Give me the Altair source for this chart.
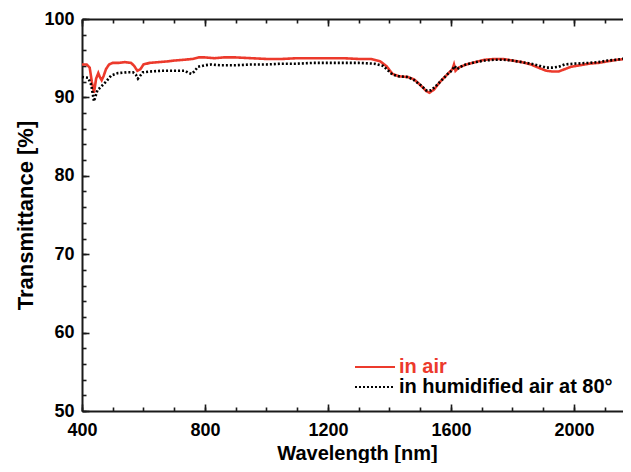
import altair as alt
import pandas as pd

# ---- data ----
wl_air = [400, 415, 425, 432, 439, 446, 453, 458, 464, 470, 478, 488, 500, 520, 540, 560, 570,
          580, 590, 600, 620, 650, 680, 700, 730, 760, 780, 800, 830, 860, 900, 950, 1000,
          1050, 1100, 1150, 1200, 1250, 1300, 1340, 1370, 1390, 1410, 1430, 1460, 1480, 1500,
          1520, 1530, 1545, 1565, 1590, 1605, 1610, 1615, 1625, 1650, 1680, 1710, 1740, 1770,
          1800, 1830, 1860, 1890, 1910, 1930, 1950, 1970, 1990, 2020, 2050, 2080, 2110, 2140,
          2170, 2190]
t_air = [94.2, 94.2, 93.8, 92.0, 90.6, 92.4, 93.1, 92.6, 92.2, 92.7, 93.6, 94.2, 94.4, 94.4, 94.5,
         94.4, 94.0, 93.4, 93.6, 94.2, 94.4, 94.5, 94.6, 94.7, 94.8, 94.9, 95.1, 95.1, 95.0,
         95.1, 95.1, 95.0, 94.9, 94.9, 95.0, 95.0, 95.0, 95.0, 94.9, 94.9, 94.6, 94.0, 93.0,
         92.7, 92.6, 92.3, 91.6, 90.8, 90.6, 91.0, 92.0, 93.0, 93.6, 94.2, 93.4, 93.8, 94.2,
         94.5, 94.8, 94.9, 94.9, 94.7, 94.5, 94.2, 93.7, 93.4, 93.3, 93.3, 93.6, 93.9, 94.1,
         94.3, 94.4, 94.6, 94.8, 94.9, 94.9]

wl_hum = [400, 420, 430, 439, 450, 463, 478, 495, 517, 545, 566, 575, 582, 590, 598, 620, 660,
          700, 735, 748, 756, 765, 777, 800, 820, 850, 900, 950, 1000, 1050, 1100, 1150, 1200,
          1250, 1300, 1350, 1380, 1410, 1430, 1460, 1480, 1500, 1520, 1535, 1550, 1570, 1590,
          1605, 1612, 1620, 1640, 1680, 1710, 1740, 1770, 1800, 1830, 1860, 1890, 1910, 1930,
          1950, 1970, 2000, 2050, 2080, 2110, 2140, 2170, 2190]
t_hum = [92.6, 92.5, 91.6, 89.5, 90.9, 91.4, 92.0, 92.8, 93.1, 93.2, 93.2, 92.9, 92.4, 92.8, 93.2,
         93.3, 93.4, 93.4, 93.4, 93.1, 93.0, 93.3, 93.9, 94.1, 94.2, 94.1, 94.1, 94.2, 94.2,
         94.3, 94.3, 94.4, 94.4, 94.4, 94.4, 94.3, 94.0, 92.9, 92.7, 92.6, 92.2, 91.6, 90.9,
         90.9, 91.4, 92.2, 93.0, 93.5, 94.0, 93.6, 94.1, 94.5, 94.7, 94.8, 94.8, 94.7, 94.5,
         94.3, 94.0, 93.8, 93.8, 93.9, 94.2, 94.3, 94.4, 94.5, 94.7, 94.8, 95.0, 94.9]

S_AIR = "in air"
S_HUM = "in humidified air at 80°"
series_names = [S_AIR, S_HUM]

x_major = [400, 800, 1200, 1600, 2000]
x_minor = [400, 500, 600, 700, 800, 900, 1000, 1100, 1200, 1300, 1400, 1500, 1600, 1700,
           1800, 1900, 2000, 2100]
y_major = [50, 60, 70, 80, 90, 100]
y_minor = [50, 52, 54, 56, 58, 60, 62, 64, 66, 68, 70, 72, 74, 76, 78, 80, 82, 84, 86, 88,
           90, 92, 94, 96, 98, 100]

df = pd.DataFrame({
    "wl": wl_air + wl_hum,
    "T": t_air + t_hum,
    "series": [S_AIR] * len(wl_air) + [S_HUM] * len(wl_hum),
})

FONT = "Liberation Sans"
RED = "#ec3a2c"
INK = "#1a1a1a"
MAJ = 7
MIN = 4

xscale = alt.Scale(domain=[400, 2189], nice=False, zero=False)
yscale = alt.Scale(domain=[50, 100], nice=False, zero=False)


def tick_axis(orient, values, size):
    return alt.Axis(orient=orient, values=values, ticks=True, tickSize=size, offset=-size,
                    tickColor=INK, tickWidth=1.6, labels=False, domain=False, grid=False,
                    title=None)


def domain_axis(orient):
    return alt.Axis(orient=orient, ticks=False, labels=False, domain=True, domainColor=INK,
                    domainWidth=2, grid=False, title=None)


legend = alt.Legend(
    orient="none", legendX=273, legendY=338, title=None, padding=0, rowPadding=0,
    symbolType="M-2,0H6", symbolSize=100, symbolStrokeWidth=2.2,
    labelFont=FONT, labelFontSize=20, labelFontWeight="bold", labelOffset=24,
    labelLimit=0, labelColor={"expr": f"datum.label == '{S_AIR}' ? '{RED}' : 'black'"},
)

base = alt.Chart(df)

lines = base.mark_line(strokeWidth=2.6).encode(
    x=alt.X("wl:Q", scale=xscale, axis=alt.Axis(
        orient="bottom", values=x_major, format="d", title="Wavelength [nm]", domain=True,
        domainColor=INK, domainWidth=2, ticks=False, tickSize=0, labelPadding=10,
        labelFont=FONT, labelFontSize=18, labelFontWeight="bold", labelColor="black",
        labelFlush=False, titleFont=FONT, titleFontSize=20, titleFontWeight="bold",
        titleColor="black", titleBaseline="alphabetic", titleY=48, grid=False)),
    y=alt.Y("T:Q", scale=yscale, axis=alt.Axis(
        orient="left", values=y_major, format="d", title="Transmittance [%]", domain=True,
        domainColor=INK, domainWidth=2, ticks=False, tickSize=0, labelPadding=8,
        labelFont=FONT, labelFontSize=18, labelFontWeight="bold", labelColor="black",
        labelFlush=False, titleFont=FONT, titleFontSize=22, titleFontWeight="bold",
        titleColor="black", titleAngle=270, titleBaseline="alphabetic", titleX=-50,
        titleY=196, titleAlign="center", grid=False)),
    color=alt.Color("series:N", scale=alt.Scale(domain=series_names, range=[RED, "black"]),
                    legend=legend),
    strokeDash=alt.StrokeDash("series:N",
                              scale=alt.Scale(domain=series_names, range=[[1, 0], [2, 2]]),
                              legend=legend),
)


def ghost(xaxis, yaxis):
    return base.mark_point(opacity=0).encode(
        x=alt.X("wl:Q", scale=xscale, axis=xaxis),
        y=alt.Y("T:Q", scale=yscale, axis=yaxis),
    )


layers = [
    lines,
    ghost(tick_axis("bottom", x_major, MAJ), tick_axis("left", y_major, MAJ)),
    ghost(tick_axis("bottom", x_minor, MIN), tick_axis("left", y_minor, MIN)),
    ghost(domain_axis("top"), tick_axis("right", y_major, MAJ)),
    ghost(tick_axis("top", x_major, MAJ), tick_axis("right", y_minor, MIN)),
    ghost(tick_axis("top", x_minor, MIN), None),
]

chart = alt.layer(*layers).resolve_axis(x="independent", y="independent").properties(
    width=550, height=392,
    padding={"left": 74, "top": 11, "right": -9, "bottom": 52},
    autosize=alt.AutoSizeParams(type="none"),
).configure_view(stroke=None)

chart.save("out.html", embed_options={"renderer": "svg", "actions": False})
